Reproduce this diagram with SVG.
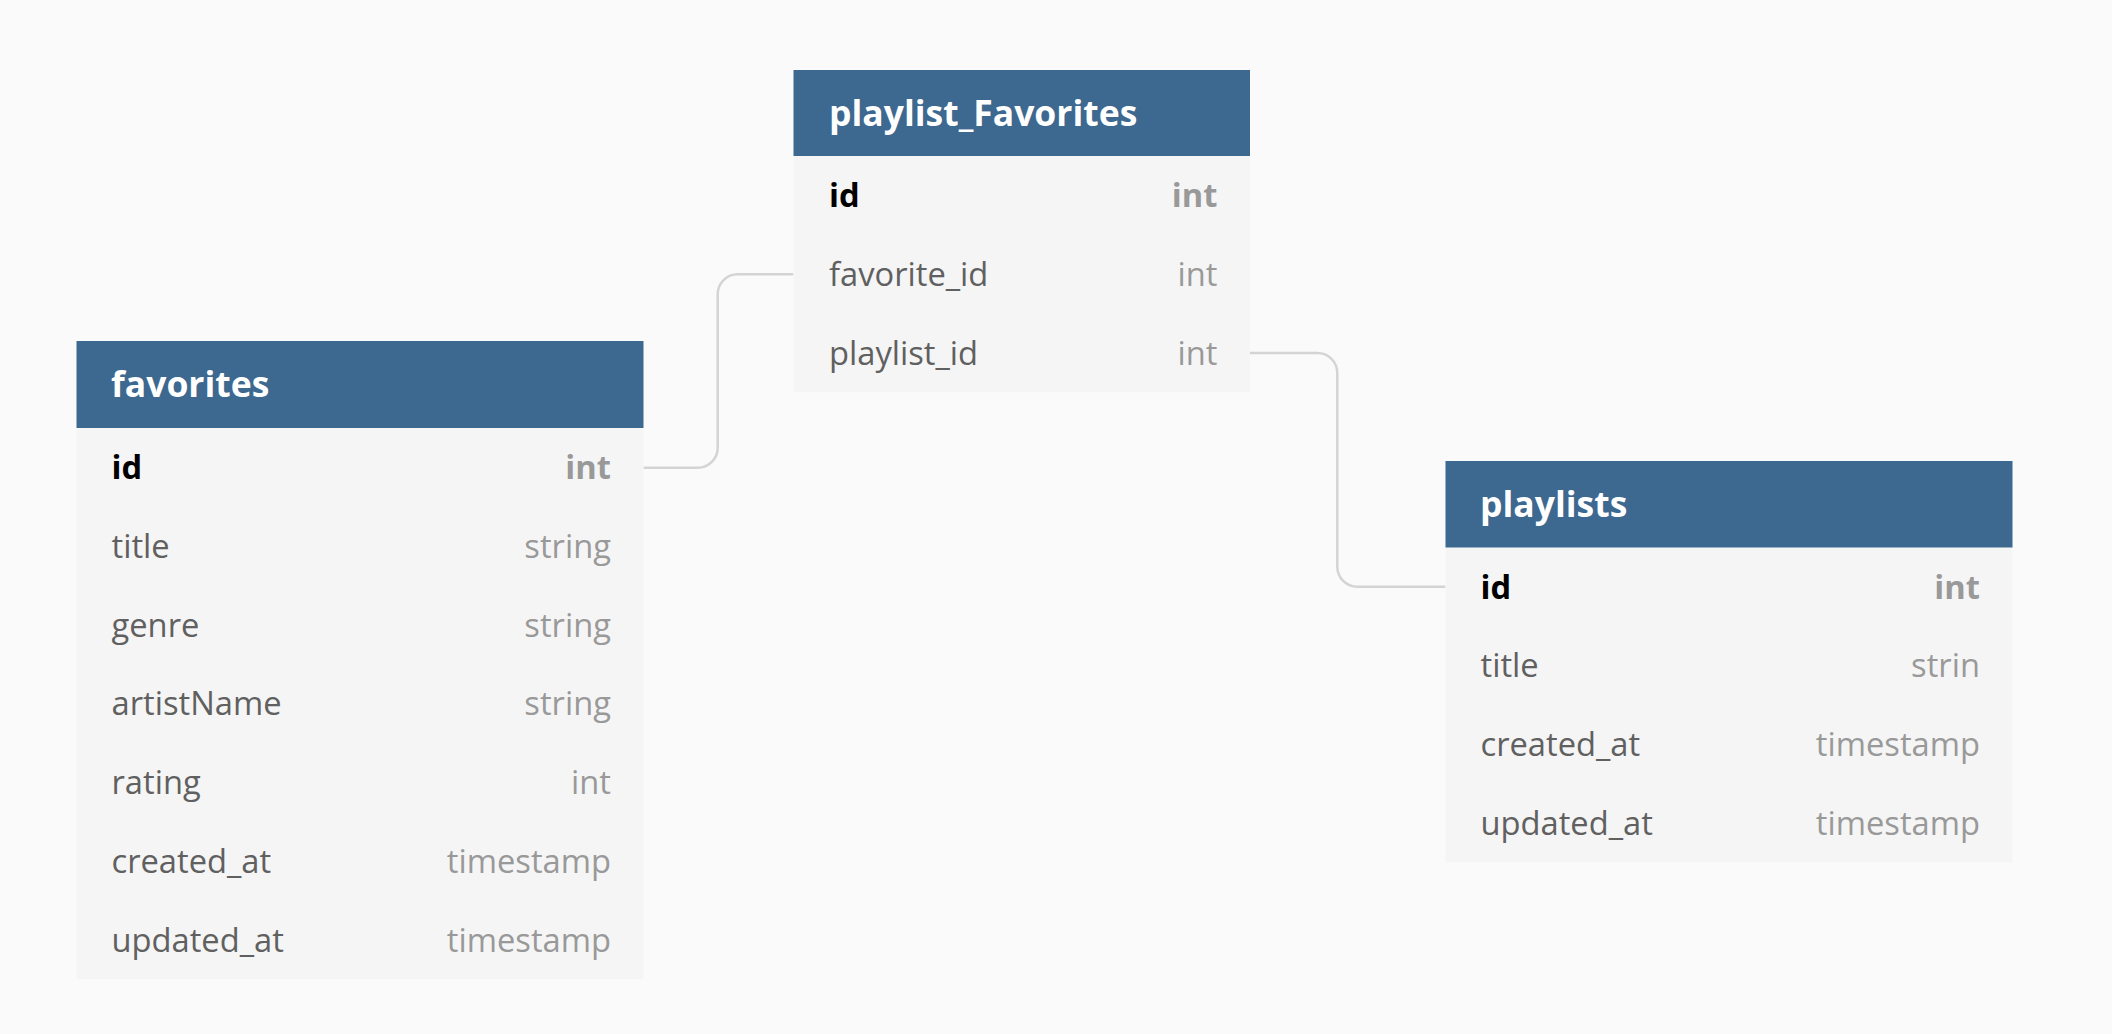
<svg xmlns="http://www.w3.org/2000/svg" width="2112" height="1034" viewBox="0 0 2112 1034">
  <style>
    .hdr { fill: #3d6890; }
    .body { fill: #f5f5f5; }
    .title { font-family: "Open Sans", "Noto Sans", sans-serif; font-weight: 700; font-size: 35.5px; fill: #ffffff; }
    .fname { font-family: "Open Sans", "Noto Sans", sans-serif; font-size: 32.7px; fill: #606060; }
    .ftype { font-family: "Open Sans", "Noto Sans", sans-serif; font-size: 32.7px; fill: #999999; text-anchor: end; }
    .pk { font-weight: 700; fill: #000000; }
    .pktype { font-weight: 700; }
    .link { fill: none; stroke: #d4d4d4; stroke-width: 2.5; }
  </style>

  <rect width="2112" height="1034" fill="#fafafa"/>

  <!-- relationships -->
  <g id="connectors">
    <path class="link" d="M643.5 467.7 H697.7 A20 20 0 0 0 717.7 447.7 V294.3 A20 20 0 0 1 737.7 274.3 H793.5"/>
    <path class="link" d="M1250 353 H1317.3 A20 20 0 0 1 1337.3 373 V566.7 A20 20 0 0 0 1357.3 586.7 H1445.5"/>
  </g>

  <!-- table: favorites -->
  <g id="favorites">
    <rect class="body" x="76.5" y="428" width="567" height="551.25"/>
    <rect class="hdr" x="76.5" y="341" width="567" height="87"/>
    <text class="title" x="111" y="397">favorites</text>
    <text class="fname pk" x="111.5" y="479">id</text>
    <text class="ftype pktype" x="611" y="479">int</text>
    <text class="fname" x="111.5" y="557.75">title</text>
    <text class="ftype" x="611" y="557.75">string</text>
    <text class="fname" x="111.5" y="636.5">genre</text>
    <text class="ftype" x="611" y="636.5">string</text>
    <text class="fname" x="111.5" y="715.25">artistName</text>
    <text class="ftype" x="611" y="715.25">string</text>
    <text class="fname" x="111.5" y="794">rating</text>
    <text class="ftype" x="611" y="794">int</text>
    <text class="fname" x="111.5" y="872.75">created_at</text>
    <text class="ftype" x="611" y="872.75">timestamp</text>
    <text class="fname" x="111.5" y="951.5">updated_at</text>
    <text class="ftype" x="611" y="951.5">timestamp</text>
  </g>

  <!-- table: playlist_Favorites -->
  <g id="playlist_Favorites">
    <rect class="body" x="793.5" y="156" width="456.5" height="236.25"/>
    <rect class="hdr" x="793.5" y="70" width="456.5" height="86"/>
    <text class="title" x="829" y="125.7">playlist_Favorites</text>
    <text class="fname pk" x="829" y="207">id</text>
    <text class="ftype pktype" x="1217.5" y="207">int</text>
    <text class="fname" x="829" y="285.75">favorite_id</text>
    <text class="ftype" x="1217.5" y="285.75">int</text>
    <text class="fname" x="829" y="364.5">playlist_id</text>
    <text class="ftype" x="1217.5" y="364.5">int</text>
  </g>

  <!-- table: playlists -->
  <g id="playlists">
    <rect class="body" x="1445.5" y="547.5" width="567" height="315"/>
    <rect class="hdr" x="1445.5" y="461" width="567" height="86.5"/>
    <text class="title" x="1480" y="516.7">playlists</text>
    <text class="fname pk" x="1480.5" y="598.5">id</text>
    <text class="ftype pktype" x="1980" y="598.5">int</text>
    <text class="fname" x="1480.5" y="677.25">title</text>
    <text class="ftype" x="1980" y="677.25">strin</text>
    <text class="fname" x="1480.5" y="756">created_at</text>
    <text class="ftype" x="1980" y="756">timestamp</text>
    <text class="fname" x="1480.5" y="834.75">updated_at</text>
    <text class="ftype" x="1980" y="834.75">timestamp</text>
  </g>
</svg>
